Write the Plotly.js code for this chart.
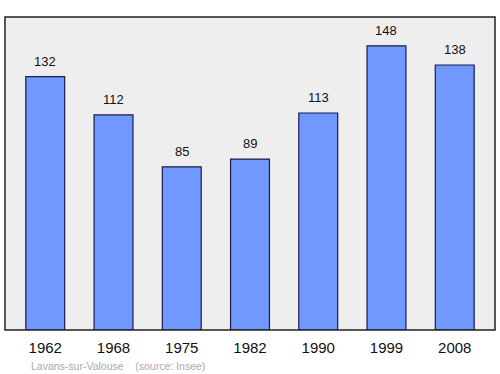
<!DOCTYPE html>
<html><head><meta charset="utf-8">
<script src="https://cdn.plot.ly/plotly-3.0.1.min.js"></script>
<style>html,body{margin:0;padding:0;background:#fff;}#chart{width:500px;height:374px;}</style>
</head><body><div id="chart"></div>
<script>
const years = ["1962","1968","1975","1982","1990","1999","2008"];
const population = [132,112,85,89,113,148,138];
const sourceText = "Lavans-sur-Valouse    (source: Insee)";

const trace = {
  type: 'bar', x: years, y: population,
  width: 0.57,
  marker: {color: '#7098ff', line: {color: '#1a1a4a', width: 1.2}},
  hoverinfo: 'none'
};
const annotations = years.map((yr, i) => ({
  x: i, y: population[i], xref: 'x', yref: 'y',
  text: String(population[i]), showarrow: false,
  yanchor: 'bottom', yshift: 6,
  font: {family: 'Liberation Sans, Arial, sans-serif', size: 13, color: '#111'}
}));
annotations.push({
  xref: 'paper', yref: 'paper', x: 0.048, y: -0.088, xanchor: 'left', yanchor: 'top',
  text: sourceText, showarrow: false,
  font: {family: 'Liberation Sans, Arial, sans-serif', size: 10.5, color: '#aaaaaa'}
});
const layout = {
  width: 500, height: 374,
  margin: {l: 5, r: 5, t: 17, b: 44},
  font: {family: 'Liberation Sans, Arial, sans-serif'},
  paper_bgcolor: '#ffffff', plot_bgcolor: '#eeeeee',
  showlegend: false,
  xaxis: {type: 'category', range: [-0.59, 6.59], showgrid: false, zeroline: false,
    ticks: '', showline: false, ticklabelstandoff: 7,
    tickfont: {family: 'Liberation Sans, Arial, sans-serif', size: 15, color: '#111'}},
  yaxis: {range: [0, 163], showgrid: false, zeroline: false, showticklabels: false, ticks: '', showline: false},
  shapes: [{type: 'rect', xref: 'paper', yref: 'paper', x0: 0, x1: 1, y0: 0, y1: 1,
    line: {color: '#222', width: 1.5}, fillcolor: 'rgba(0,0,0,0)'}],
  annotations: annotations
};
Plotly.newPlot('chart', [trace], layout, {staticPlot: true, displayModeBar: false});
</script></body></html>
